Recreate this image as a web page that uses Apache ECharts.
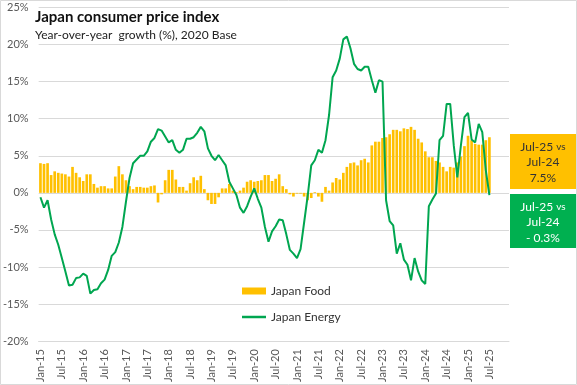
<!DOCTYPE html>
<html><head><meta charset="utf-8">
<script src="https://cdn.jsdelivr.net/npm/echarts@6/dist/echarts.min.js"></script>
<style>html,body{margin:0;padding:0;background:#fff}#c{width:577px;height:385px}</style>
</head><body><div id="c"></div>
<script>
const monthNames = ['Jan','Feb','Mar','Apr','May','Jun','Jul','Aug','Sep','Oct','Nov','Dec'];
const years = ['15','16','17','18','19','20','21','22','23','24','25'];
const categories = [];
years.forEach(y => monthNames.forEach(m => categories.push(m + '-' + y)));

const japanFood = [
 4.0, 3.9, 4.0, 2.4, 2.9, 2.7, 2.6, 2.5, 2.2, 3.5, 2.7, 2.1,
 1.6, 2.5, 2.5, 1.2, 0.7, 0.9, 0.9, 0.6, 0.6, 2.2, 3.6, 2.5,
 1.7, 0.9, 0.5, 0.8, 0.8, 0.7, 0.7, 0.9, 1.0, -1.3, -0.2, 1.7,
 3.1, 3.1, 1.8, 0.8, 0.8, 0.3, 1.3, 2.1, 1.7, 2.3, 0.5, -1.0,
 -1.5, -1.5, -0.6, 0.6, 0.6, 1.2, 0.3, 0.1, 0.3, 0.7, 1.5, 1.7,
 1.5, 1.6, 1.7, 2.4, 2.4, 1.6, 1.9, 2.5, 0.9, 0.5, -0.2, -0.5,
 -0.1, -0.1, -0.5, -1.0, -0.7, 0.1, -0.5, -1.2, 0.8, 0.3, 1.4, 2.0,
 1.8, 2.7, 3.5, 4.0, 4.1, 3.7, 4.4, 4.6, 4.1, 6.4, 6.9, 6.9,
 7.4, 7.5, 7.9, 8.5, 8.5, 8.3, 8.7, 8.6, 8.9, 8.5, 7.3, 6.8,
 5.6, 4.8, 4.8, 4.3, 4.1, 3.5, 2.9, 3.5, 3.4, 4.1, 4.9, 6.3,
 7.7, 7.1, 6.6, 6.5, 6.5, 7.1, 7.5
];
const japanEnergy = [
 -0.6, -2.0, -1.0, -3.6, -5.6, -7.0, -8.8, -10.6, -12.5, -12.4, -11.5, -11.4,
 -10.9, -11.2, -13.6, -13.1, -13.0, -12.2, -11.7, -10.4, -8.5, -8.0, -6.7, -4.6,
 -1.2, 2.0, 4.0, 4.5, 5.0, 5.0, 5.6, 6.9, 7.4, 8.6, 8.4, 7.6,
 6.8, 7.1, 5.8, 5.4, 5.8, 7.3, 7.3, 7.5, 8.1, 8.9, 8.3, 6.0,
 5.0, 4.4, 5.1, 4.4, 3.7, 1.5, 0.6, -0.3, -2.0, -2.7, -1.8, -0.5,
 0.6, -0.8, -2.0, -4.6, -6.6, -5.2, -4.5, -3.6, -3.7, -5.6, -7.7, -8.2,
 -8.8, -7.6, -4.0, -0.4, 3.7, 4.4, 5.8, 5.4, 7.1, 10.5, 15.6, 16.5,
 18.1, 20.7, 21.1, 19.5, 17.4, 16.7, 16.5, 17.0, 17.0, 15.2, 13.5, 15.2,
 15.0, -1.0, -3.8, -4.4, -8.2, -6.8, -9.0, -9.7, -11.8, -8.8, -10.6, -11.8,
 -12.3, -1.8, -0.9, -0.1, 7.1, 7.7, 12.0, 12.0, 6.4, 2.1, 6.4, 10.2,
 10.8, 7.2, 6.8, 9.3, 8.2, 3.0, -0.3
];
const yTicks = { min: -20, max: 25, interval: 5 };
const foodBox = ['Jul-25 ', 'vs', 'Jul-24', '7.5%'];
const energyBox = ['Jul-25 ', 'vs', 'Jul-24', '- 0.3%'];

const FONT = 'Lato';
function boxText(lines, color, cx, y) {
  return { type: 'text', x: cx, y: y, style: {
    text: '{a|' + lines[0] + '}{s|' + lines[1] + '}\n{a|' + lines[2] + '}\n{a|' + lines[3] + '}',
    textAlign: 'center', fill: color, fontFamily: FONT, lineHeight: 15.5,
    rich: { a: { fontSize: 12, fontFamily: FONT, lineHeight: 15.5, fill: color, align: 'center' },
            s: { fontSize: 10, fontFamily: FONT, lineHeight: 15.5, fill: color, align: 'center' } }
  } };
}
const chart = echarts.init(document.getElementById('c'), null, { renderer: 'canvas' });
chart.setOption({
  animation: false,
  textStyle: { fontFamily: FONT },
  title: {
    text: 'Japan consumer price index',
    subtext: 'Year-over-year  growth (%), 2020 Base',
    left: 35, top: 10, padding: 0, itemGap: 4,
    textStyle: { fontFamily: FONT, fontSize: 15, fontWeight: 'bold', color: '#111' },
    subtextStyle: { fontFamily: FONT, fontSize: 12, color: '#222' }
  },
  grid: { left: 38, right: 68, top: 7.5, bottom: 41, containLabel: false },
  legend: [
    { left: 242, top: 285, itemWidth: 24, itemHeight: 7, padding: 0,
      textStyle: { fontFamily: FONT, fontSize: 12, color: '#333' },
      data: [{ name: 'Japan Food', icon: 'rect' }] },
    { left: 242, top: 311, itemWidth: 24, itemHeight: 2.5, padding: 0,
      textStyle: { fontFamily: FONT, fontSize: 12, color: '#333' },
      data: [{ name: 'Japan Energy', icon: 'rect' }] }
  ],
  xAxis: {
    type: 'category', data: categories, boundaryGap: true,
    axisLine: { onZero: false, lineStyle: { color: '#d9d9d9' } },
    axisTick: { show: false },
    axisLabel: { interval: 5, rotate: 90, margin: 8, fontSize: 11, color: '#595959', fontFamily: FONT }
  },
  yAxis: {
    type: 'value', min: yTicks.min, max: yTicks.max, interval: yTicks.interval,
    axisLine: { show: false }, axisTick: { show: false },
    axisLabel: { formatter: '{value}%', fontSize: 11, color: '#595959', margin: 10, fontFamily: FONT, showMaxLabel: true, showMinLabel: true },
    splitLine: { lineStyle: { color: '#d9d9d9', width: 1 } }
  },
  series: [
    { name: 'Japan Food', type: 'bar', data: japanFood, barCategoryGap: '25%',
      itemStyle: { color: '#FFC000' }, z: 2 },
    { name: 'Japan Energy', type: 'line', data: japanEnergy, symbol: 'none', showSymbol: false,
      lineStyle: { color: '#00A650', width: 2 }, itemStyle: { color: '#00A650' }, z: 3 }
  ],
  graphic: [
    { type: 'rect', shape: { x: 0.5, y: 0.5, width: 576, height: 384 }, style: { fill: 'none', stroke: '#d9d9d9', lineWidth: 1 }, silent: true },
    { type: 'rect', shape: { x: 510, y: 134, width: 66, height: 55 }, style: { fill: '#FFC000' } },
    boxText(foodBox, '#333', 543, 139),
    { type: 'rect', shape: { x: 510, y: 194, width: 66, height: 54 }, style: { fill: '#00B050' } },
    boxText(energyBox, '#fff', 543, 199)
  ]
});
</script>
</body></html>
